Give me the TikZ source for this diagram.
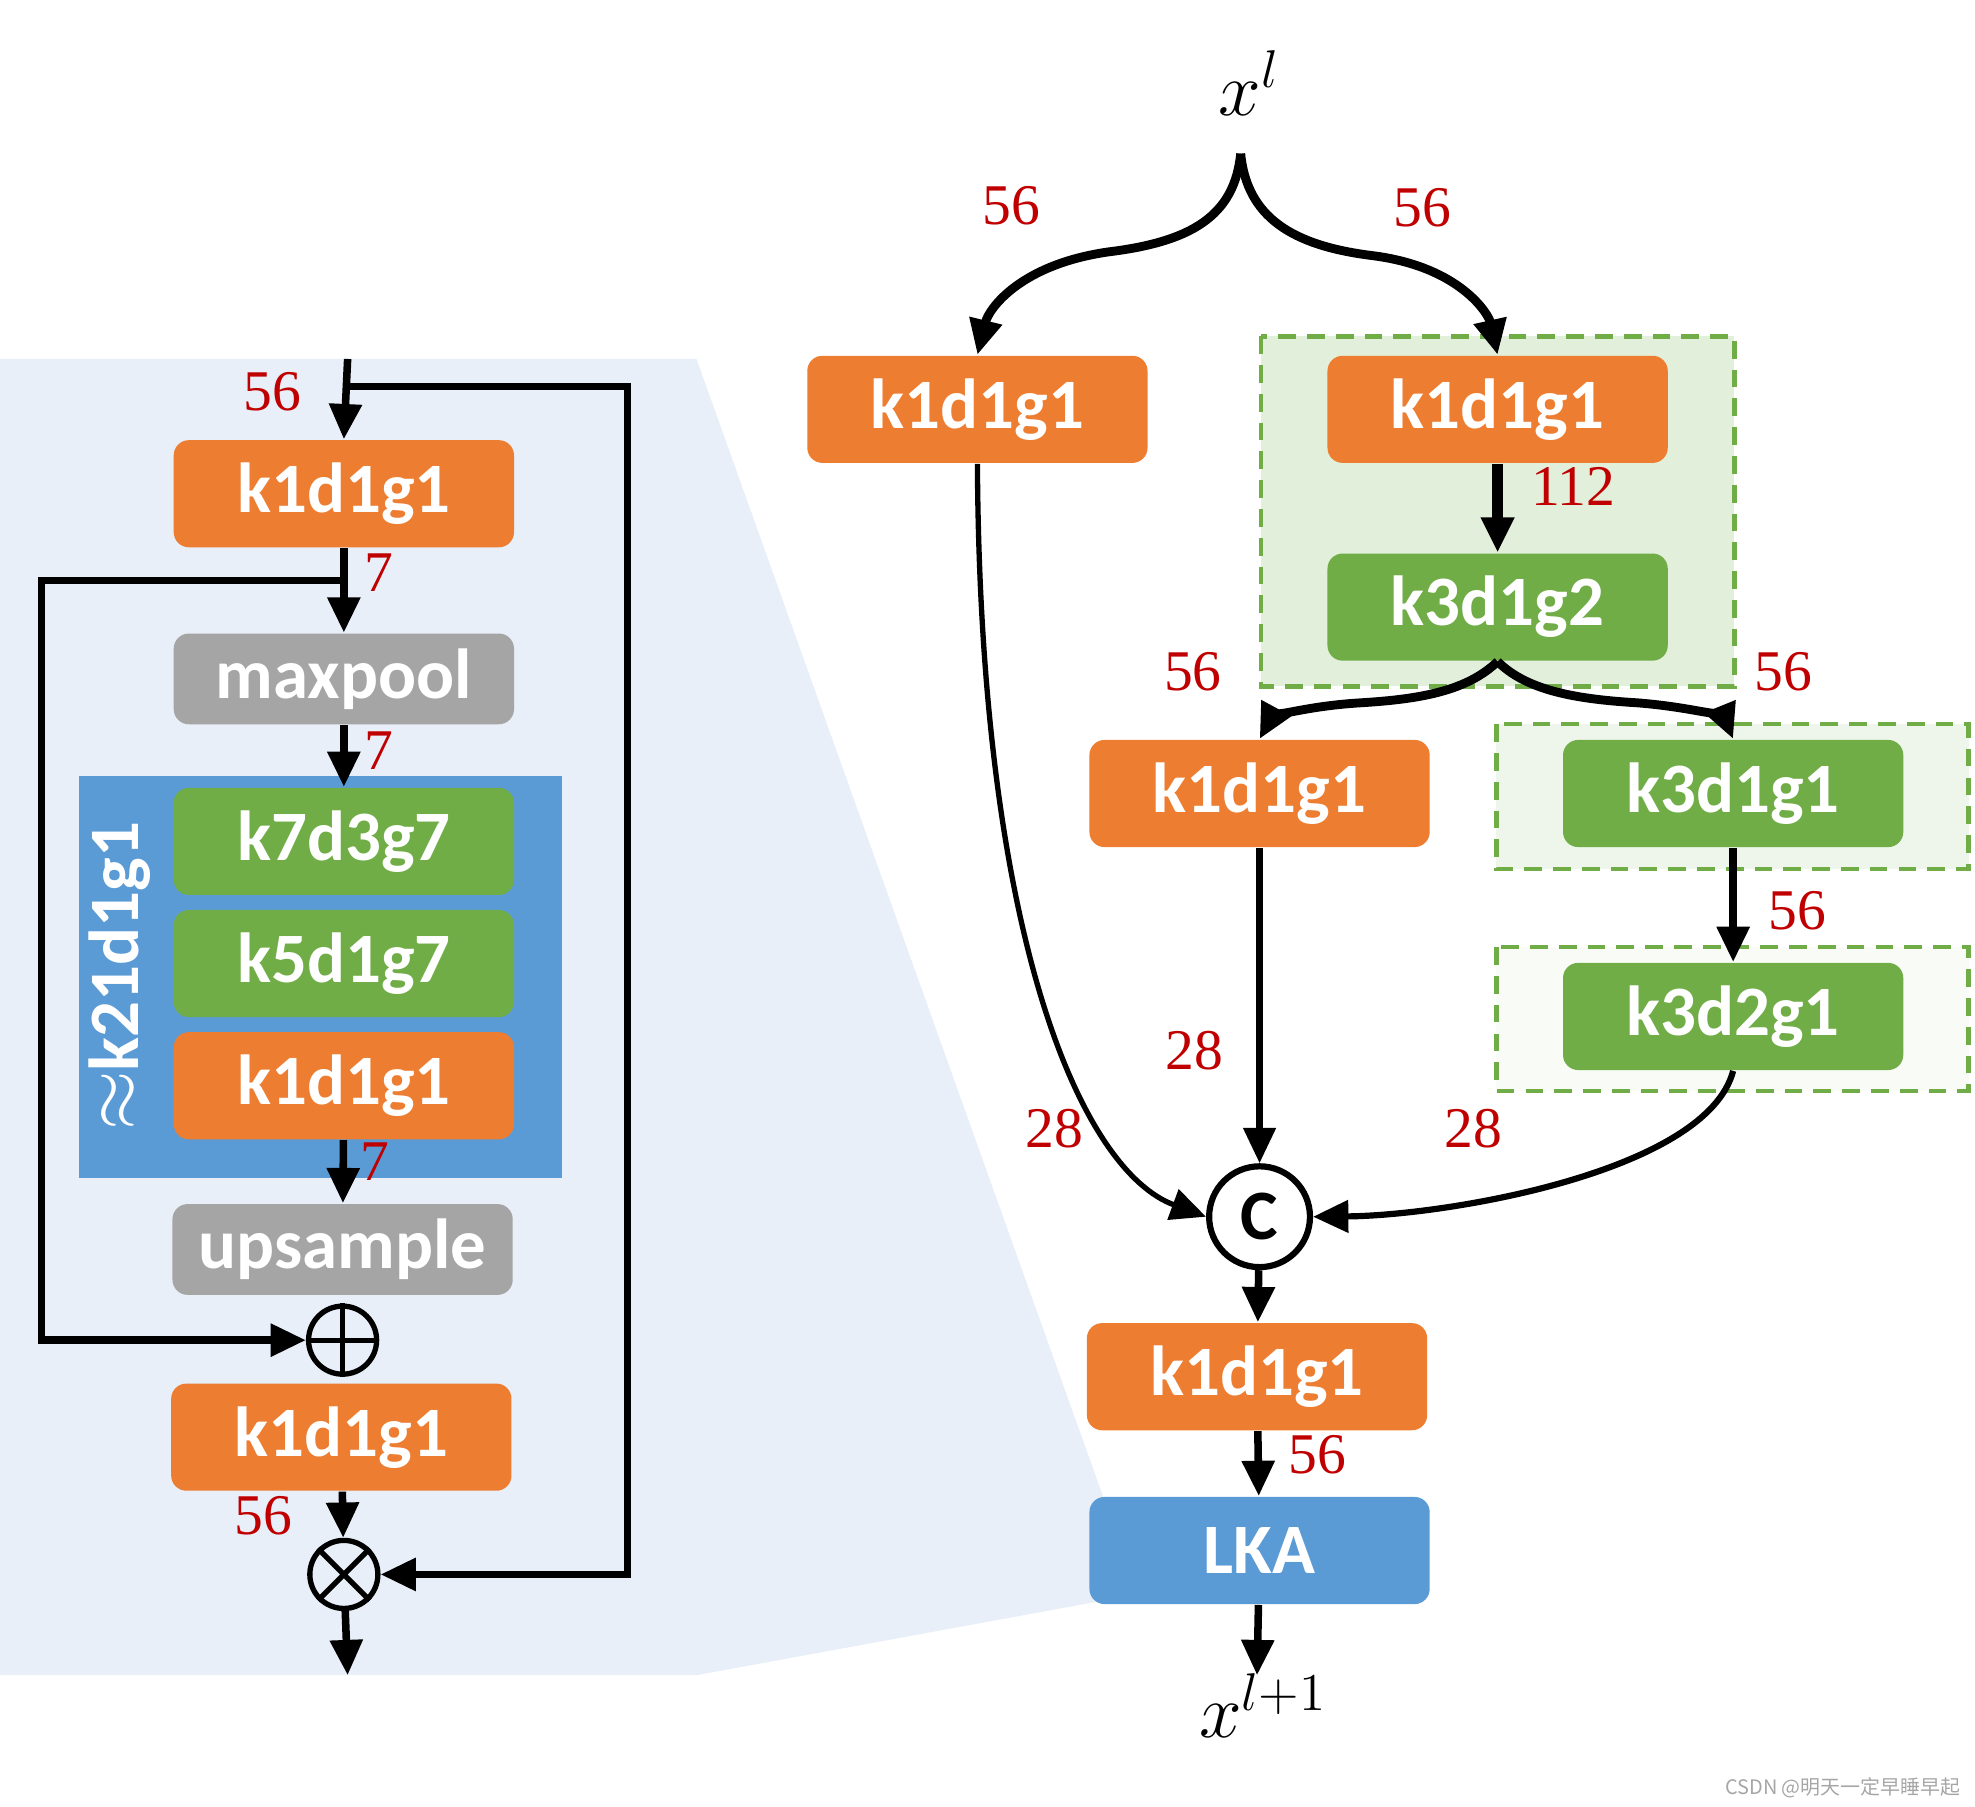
\documentclass[tikz,border=0pt]{standalone}
\usepackage{fontspec}
\setmainfont{Carlito}
\newfontfamily\numfont{Liberation Serif}
\newfontfamily\cjkfont{Noto Sans CJK SC}
\usetikzlibrary{arrows.meta,positioning}

\definecolor{blockorange}{HTML}{ED7D31}
\definecolor{blockgreen}{HTML}{70AD47}
\definecolor{blockgray}{HTML}{A5A5A5}
\definecolor{blockblue}{HTML}{5B9BD5}
\definecolor{panelblue}{HTML}{E8EFF8}
\definecolor{dimred}{HTML}{C00000}
\definecolor{zoneA}{HTML}{E2EFDA}
\definecolor{zoneB}{HTML}{EEF5EA}
\definecolor{zoneC}{HTML}{F8FBF6}

\begin{document}
\begin{tikzpicture}
  [x=0.01cm,y=-0.01cm,
   every node/.style={inner sep=0pt},
   blk/.style={rounded corners=0.12cm,minimum width=2.7cm,minimum height=0.85cm,
     text=white,font=\fontsize{16}{18}\selectfont\bfseries},
   conv/.style={blk,fill=blockorange},
   dw/.style={blk,fill=blockgreen},
   pool/.style={blk,fill=blockgray,minimum height=0.72cm},
   dim/.style={text=dimred,font=\fontsize{13}{14}\selectfont\numfont},
   feat/.style={font=\fontsize{17}{20}\selectfont},
   zone/.style={draw=blockgreen,line width=1pt,dash pattern=on 4pt off 2.5pt},
   flow/.style={line width=1.7pt,-{Triangle[width=0.25cm,length=0.28cm]}},
   op/.style={circle,draw,line width=1.2pt,minimum size=0.54cm}]
  \useasboundingbox (0,0) rectangle (1568,1434);

  % zoomed-in LKA panel
  \fill[panelblue] (0,285) -- (553,285) -- (880,1200) -- (880,1270) -- (553,1330) -- (0,1330) -- cycle;

  \node[conv] (l1) at (273,392) {k1d1g1};
  \node[pool] (mp) at (273,539) {maxpool};
  \node[fill=blockblue,minimum width=3.83cm,minimum height=3.19cm] (lkabox) at (254.5,775.5) {};
  \node[rotate=90,text=white,font=\fontsize{16}{18}\selectfont\bfseries] (lkatxt) at (95,775) {$\approx$k21d1g1};
  \node[dw] (k7) at (273,668) {k7d3g7};
  \node[dw] (k5) at (273,765) {k5d1g7};
  \node[conv] (l2) at (273,862) {k1d1g1};
  \node[pool] (up) at (272,992) {upsample};
  \node[op] (add) at (272,1064) {};
  \draw[line width=1.2pt] (add.north) -- (add.south) (add.west) -- (add.east);
  \node[conv] (l3) at (271,1141) {k1d1g1};
  \node[op] (mul) at (273,1250) {};
  \draw[line width=1.2pt] (mul.north west) -- (mul.south east) (mul.north east) -- (mul.south west);
  \coordinate (lin) at (276,285);
  \coordinate (sk) at (276,307);
  \coordinate (br) at (273,461);
  \coordinate (lout) at (276,1330);

  \draw[flow] (lin) -- (l1.north);
  \foreach \from/\to in {l1/mp,mp/k7,l2/up,l3/mul,mul/lout}
    \draw[flow] (\from) -- (\to);
  \draw[flow] (sk) -- ++(222,0) |- (mul);
  \draw[flow] (br) -- ++(-240,0) |- (add);

  \node[dim] (d1) at (216,311) {56};
  \node[dim] (d2) at (301,455) {7};
  \node[dim] (d3) at (301,596) {7};
  \node[dim] (d4) at (298,922) {7};
  \node[dim] (d5) at (209,1203) {56};

  % block
  \node[feat] (xin) at (992,66) {$x^l$};
  \coordinate (fork) at (985,122);
  \draw[zone,fill=zoneA] (1001,267) rectangle (1377,545);
  \draw[zone,fill=zoneB] (1188,575) rectangle (1563,690);
  \draw[zone,fill=zoneC] (1188,752) rectangle (1563,866);
  \node[conv] (a1) at (776,325) {k1d1g1};
  \node[conv] (b1) at (1189,325) {k1d1g1};
  \node[dw] (b2) at (1189,482) {k3d1g2};
  \node[conv] (c1) at (1000,630) {k1d1g1};
  \node[dw] (e1) at (1376,630) {k3d1g1};
  \node[dw] (e2) at (1376,807) {k3d2g1};
  \node[circle,draw,line width=1.4pt,minimum size=0.8cm,font=\fontsize{16}{18}\selectfont\bfseries] (cat) at (1000,966) {C};
  \node[conv] (g1) at (998,1093) {k1d1g1};
  \node[blk,fill=blockblue] (lka) at (1000,1231) {LKA};
  \coordinate (rout) at (998,1330);
  \node[feat] (xout) at (1003,1354) {$x^{l+1}$};

  \draw[flow,line width=2pt] (fork) .. controls (980,172) and (945,192) .. (880,200)
    .. controls (810,210) and (785,245) .. (a1.north);
  \draw[flow,line width=2pt] (fork) .. controls (990,172) and (1025,195) .. (1090,203)
    .. controls (1160,212) and (1182,250) .. (b1.north);
  \draw[flow,line width=2.4pt] (b1) -- (b2);
  \draw[flow,line width=2pt] (b2.south) .. controls (1165,548) and (1130,555) .. (1080,558)
    .. controls (1030,561) and (1008,572) .. (c1.north);
  \draw[flow,line width=2pt] (b2.south) .. controls (1212,548) and (1250,555) .. (1300,558)
    .. controls (1350,562) and (1370,572) .. (e1.north);
  \draw[flow] (e1) -- (e2);
  \draw[flow,line width=1.2pt] (a1.south) .. controls (778,750) and (860,930) .. (cat.west);
  \draw[flow,line width=1.4pt] (c1) -- (cat);
  \draw[flow,line width=1.4pt] (e2.south) .. controls (1355,930) and (1150,965) .. (cat.east);
  \foreach \from/\to in {cat/g1,g1/lka,lka/rout}
    \draw[flow] (\from) -- (\to);

  \node[dim] (r1) at (803,163) {56};
  \node[dim] (r2) at (1129,165) {56};
  \node[dim] (r3) at (1249,386) {112};
  \node[dim] (r4) at (947,533) {56};
  \node[dim] (r5) at (1416,533) {56};
  \node[dim] (r6) at (1427,723) {56};
  \node[dim] (r7) at (948,834) {28};
  \node[dim] (r8) at (837,896) {28};
  \node[dim] (r9) at (1170,896) {28};
  \node[dim] (r10) at (1046,1155) {56};

  \node[anchor=east,text=gray!70,font=\cjkfont\fontsize{4.5}{5}\selectfont] (mark) at (1557,1419) {CSDN @明天一定早睡早起};
\end{tikzpicture}
\end{document}
